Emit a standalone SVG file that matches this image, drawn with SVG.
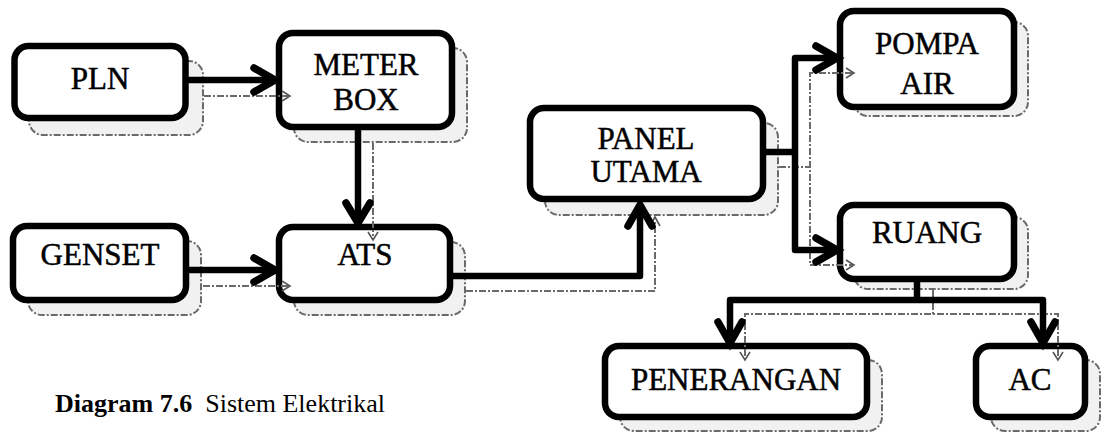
<svg xmlns="http://www.w3.org/2000/svg" width="1107" height="437" viewBox="0 0 1107 437">
  <style>
    .shadow { fill: #f1f1f1; stroke: #6a6a6a; stroke-width: 2; stroke-dasharray: 7 2 2 2; }
    .box { fill: #ffffff; stroke: #000000; stroke-width: 6.5; }
    .ghost { fill: none; stroke: #6a6a6a; stroke-width: 2; stroke-dasharray: 7 2 2 2; }
    .ghost-head { fill: none; stroke: #555555; stroke-width: 1.6; }
    .wire { fill: none; stroke: #000000; stroke-width: 6.5; stroke-linejoin: round; }
    .head { fill: none; stroke: #000000; stroke-width: 7.5; stroke-linecap: round; stroke-linejoin: miter; }
    .label { font-size: 31px; fill: #000000; stroke: #000000; stroke-width: 0.5; text-anchor: middle; }
    .caption { font-size: 26px; fill: #000000; }
  </style>

  <rect width="1107" height="437" fill="#ffffff"/>

  <!-- drop shadows behind the boxes -->
  <g id="shadows">
    <rect class="shadow" x="29" y="61" width="174" height="74" rx="14"/>
    <rect class="shadow" x="294" y="48" width="173" height="94" rx="14"/>
    <rect class="shadow" x="28" y="241" width="173" height="74" rx="14"/>
    <rect class="shadow" x="294" y="242" width="171" height="73" rx="14"/>
    <rect class="shadow" x="545" y="123" width="233" height="92" rx="14"/>
    <rect class="shadow" x="854" y="22" width="174" height="94" rx="14"/>
    <rect class="shadow" x="854" y="217" width="174" height="72" rx="14"/>
    <rect class="shadow" x="620" y="360" width="262" height="71" rx="14"/>
    <rect class="shadow" x="991" y="360" width="109" height="71" rx="14"/>
  </g>

  <!-- nodes -->
  <g id="node-pln">
    <rect class="box" x="14.5" y="46" width="171" height="72" rx="14"/>
  </g>
  <g id="node-meter-box">
    <rect class="box" x="279" y="33" width="173" height="94" rx="14"/>
  </g>
  <g id="node-genset">
    <rect class="box" x="13" y="226" width="173" height="74" rx="14"/>
  </g>
  <g id="node-ats">
    <rect class="box" x="279" y="227" width="171" height="73" rx="14"/>
  </g>
  <g id="node-panel-utama">
    <rect class="box" x="530" y="108" width="233" height="91" rx="14"/>
  </g>
  <g id="node-pompa-air">
    <rect class="box" x="840" y="11" width="174" height="96" rx="14"/>
  </g>
  <g id="node-ruang">
    <rect class="box" x="840" y="205" width="174" height="74" rx="14"/>
  </g>
  <g id="node-penerangan">
    <rect class="box" x="605" y="346" width="262" height="71" rx="14"/>
  </g>
  <g id="node-ac">
    <rect class="box" x="976" y="346" width="109" height="71" rx="14"/>
  </g>

  <!-- faint offset copy of the connectors -->
  <g id="ghost-connectors">
    <path class="ghost" d="M204 96 H288"/>
    <path class="ghost-head" d="M282 91 L290 96 L282 101"/>
    <path class="ghost" d="M373 143 V236"/>
    <path class="ghost-head" d="M368 232 L373 240 L378 232"/>
    <path class="ghost" d="M203 286 H288"/>
    <path class="ghost-head" d="M282 281 L290 286 L282 291"/>
    <path class="ghost" d="M466 291 H655 V220"/>
    <path class="ghost-head" d="M650 226 L655 217 L660 226"/>
    <path class="ghost" d="M779 167 H810"/>
    <path class="ghost" d="M852 73 H810 V265 H852"/>
    <path class="ghost-head" d="M846 68 L854 73 L846 78"/>
    <path class="ghost-head" d="M846 260 L854 265 L846 270"/>
    <path class="ghost" d="M933 290 V314"/>
    <path class="ghost" d="M745 356 V314 H1058 V356"/>
    <path class="ghost-head" d="M740 352 L745 360 L750 352"/>
    <path class="ghost-head" d="M1053 352 L1058 360 L1063 352"/>
  </g>

  <!-- connectors -->
  <g id="connectors">
    <path class="wire" d="M188 80 H272"/>
    <path class="head" d="M254 68 L275 80 L254 92"/>

    <path class="wire" d="M358 130 V220"/>
    <path class="head" d="M346 203 L358 223 L370 203"/>

    <path class="wire" d="M188 270 H272"/>
    <path class="head" d="M254 258 L275 270 L254 282"/>

    <path class="wire" d="M452 276 H640 V208"/>
    <path class="head" d="M628 226 L640 205 L652 226"/>

    <path class="wire" d="M765 152 H795"/>
    <path class="wire" d="M834 58 H795 V250 H834"/>
    <path class="head" d="M816 46 L837 58 L816 70"/>
    <path class="head" d="M816 238 L837 250 L816 262"/>

    <path class="wire" d="M917 281 V300"/>
    <path class="wire" d="M730 340 V300 H1043 V340"/>
    <path class="head" d="M718 322 L730 343 L742 322"/>
    <path class="head" d="M1031 322 L1043 343 L1055 322"/>
  </g>

  <!-- node labels -->
  <g id="labels" font-family="'Liberation Serif', 'DejaVu Serif', serif">
    <text class="label" x="100" y="89">PLN</text>
    <text class="label" x="366" y="75">METER</text>
    <text class="label" x="366" y="110">BOX</text>
    <text class="label" x="100" y="265">GENSET</text>
    <text class="label" x="365" y="265">ATS</text>
    <text class="label" x="646" y="149" font-size="29">PANEL</text>
    <text class="label" x="646" y="182" font-size="29">UTAMA</text>
    <text class="label" x="927" y="54">POMPA</text>
    <text class="label" x="927" y="94">AIR</text>
    <text class="label" x="927" y="243">RUANG</text>
    <text class="label" x="736" y="390">PENERANGAN</text>
    <text class="label" x="1030" y="390">AC</text>
  </g>

  <text class="caption" x="55" y="412" font-family="'Liberation Serif', 'DejaVu Serif', serif"><tspan font-weight="bold">Diagram 7.6</tspan><tspan xml:space="preserve">  Sistem Elektrikal</tspan></text>
</svg>
